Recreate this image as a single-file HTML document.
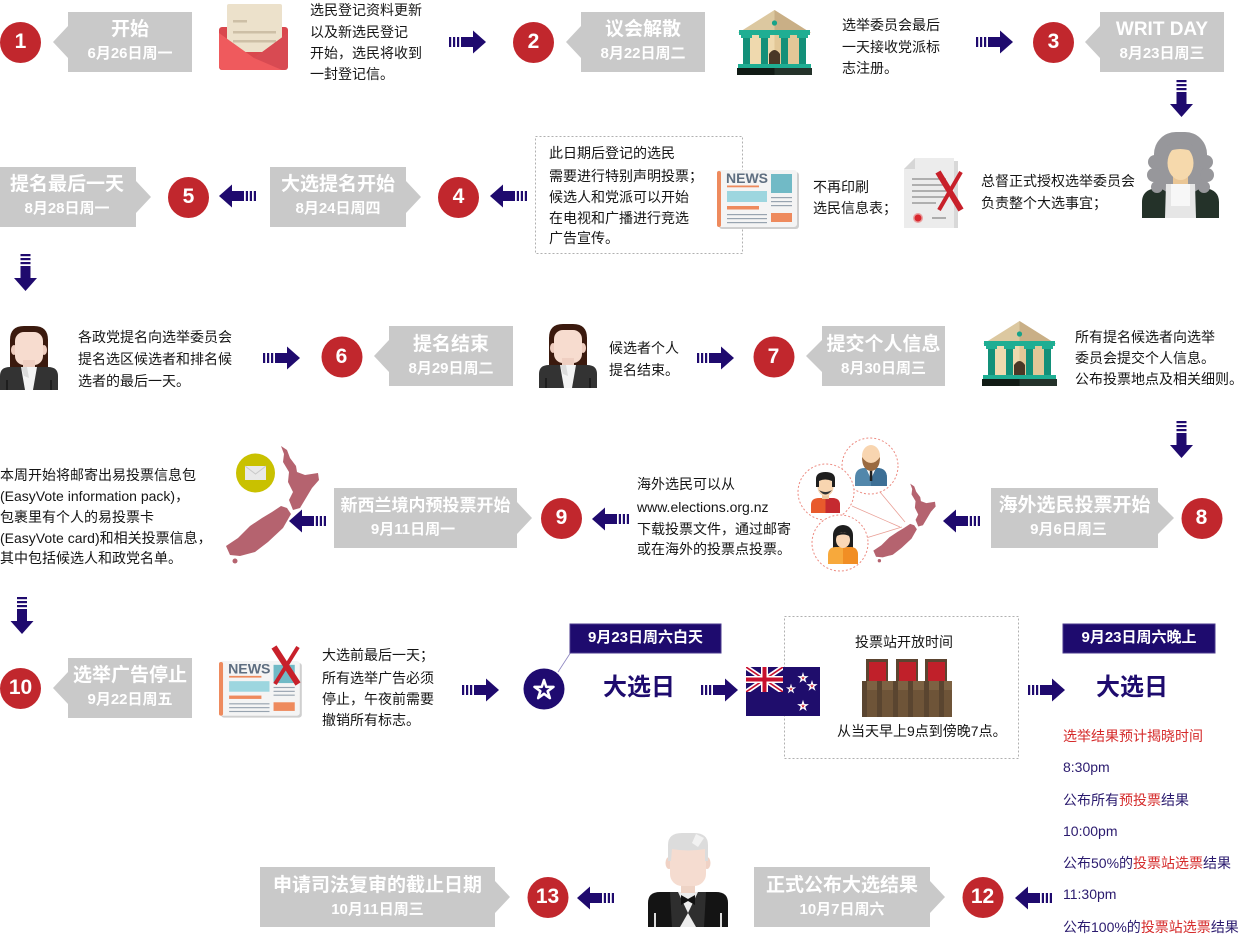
<!DOCTYPE html>
<html><head><meta charset="utf-8">
<style>
*{margin:0;padding:0}
body{width:1242px;height:945px;background:#fff;position:relative;overflow:hidden;font-family:"Liberation Sans","Noto Sans CJK SC",sans-serif}
svg{position:absolute;left:0;top:0}
.t{position:absolute;font-size:14px;line-height:20px;white-space:nowrap;color:#151515}
.bt{position:absolute;color:#fff;font-weight:bold;font-size:19px;line-height:24px;text-align:center;white-space:nowrap}
.bd{position:absolute;color:#fff;font-weight:bold;font-size:15px;line-height:20px;text-align:center;white-space:nowrap}
.n{position:absolute;width:41px;color:#fff;font-weight:bold;font-size:21px;line-height:24px;text-align:center}
.lb{position:absolute;color:#fff;font-weight:bold;font-size:15px;line-height:20px;text-align:center;white-space:nowrap}
.big{position:absolute;color:#1e0b6e;font-weight:bold;font-size:24px;line-height:30px;white-space:nowrap}
.p{color:#2a1a6e}
.r{color:#d52b2b}
</style></head><body>
<svg width="1242" height="945" viewBox="0 0 1242 945">
<defs>
<g id="ar" fill="#1f0a6e">
<rect x="0" y="-5" width="2.2" height="10"/>
<rect x="4" y="-5" width="2.2" height="10"/>
<rect x="8" y="-5" width="2.2" height="10"/>
<rect x="12" y="-5" width="12.5" height="10"/>
<polygon points="24,-11.5 37,0 24,11.5"/>
</g>
<polygon id="st" points="0,-1 0.225,-0.309 0.951,-0.309 0.363,0.118 0.588,0.809 0,0.382 -0.588,0.809 -0.363,0.118 -0.951,-0.309 -0.225,-0.309"/>
<g id="bld">
<polygon points="1,23 37.5,0 74,23" fill="#dcc8a0"/>
<polygon points="37.5,0 74,23 37.5,23" fill="#c9af86"/>
<circle cx="37.5" cy="13" r="2.6" fill="#17a389"/>
<rect x="2" y="20" width="71" height="5" fill="#1fae93"/>
<rect x="6" y="25" width="63" height="33" fill="#efd9ae"/>
<rect x="37.5" y="25" width="31.5" height="33" fill="#e2c797"/>
<rect x="6" y="25" width="7" height="31" fill="#139079"/>
<rect x="24" y="25" width="7" height="31" fill="#139079"/>
<rect x="44" y="25" width="7" height="31" fill="#139079"/>
<rect x="62" y="25" width="7" height="31" fill="#139079"/>
<rect x="4" y="25" width="11" height="3" fill="#1fae93"/>
<rect x="22" y="25" width="11" height="3" fill="#1fae93"/>
<rect x="42" y="25" width="11" height="3" fill="#1fae93"/>
<rect x="60" y="25" width="11" height="3" fill="#1fae93"/>
<path d="M32,57 L32,44 Q37.5,36 43,44 L43,57 Z" fill="#4a3826"/>
<rect x="1" y="54" width="73" height="4" fill="#1fae93"/>
<rect x="0" y="58" width="75" height="7" fill="#24322a"/>
<rect x="0" y="58" width="37.5" height="7" fill="#111b15"/>
</g>
<g id="news">
<rect x="2" y="2" width="80" height="57" rx="3" fill="#cfcfcf"/>
<rect x="0" y="0" width="80" height="57" rx="3" fill="#f4f4f4"/>
<rect x="0" y="1" width="4" height="56" rx="2" fill="#ee8a5d"/>
<text x="9" y="13" font-family="Liberation Sans" font-weight="bold" font-size="14" fill="#5e6e80">NEWS</text>
<rect x="10" y="15.5" width="32" height="1.8" fill="#ee8a5d"/>
<rect x="54" y="4" width="21" height="19" fill="#71bac6"/>
<rect x="10" y="21" width="40" height="11" fill="#9dd6df"/>
<rect x="10" y="36" width="32" height="3.5" fill="#ee8a5d"/>
<rect x="10" y="44" width="40" height="1.2" fill="#98a4b0"/>
<rect x="10" y="48" width="40" height="1.2" fill="#98a4b0"/>
<rect x="10" y="52" width="40" height="1.2" fill="#98a4b0"/>
<rect x="54" y="27" width="21" height="1.2" fill="#98a4b0"/>
<rect x="54" y="31" width="21" height="1.2" fill="#98a4b0"/>
<rect x="54" y="35" width="21" height="1.2" fill="#98a4b0"/>
<rect x="54" y="43" width="21" height="9" fill="#ee8a5d"/>
</g>
<g id="woman">
<path d="M10,42 L10,14 Q10,0 24,0 L34,0 Q48,0 48,14 L48,42 Z" fill="#3b1a0e"/>
<ellipse cx="14" cy="24" rx="3" ry="5" fill="#efcdbf"/>
<ellipse cx="44" cy="24" rx="3" ry="5" fill="#efcdbf"/>
<rect x="15" y="6" width="28" height="33" rx="9" fill="#f7dccf"/>
<rect x="23" y="34" width="12" height="10" fill="#efcfc2"/>
<path d="M0,64 L0,50 Q0,41 10,41 L48,41 Q58,41 58,50 L58,64 Z" fill="#333"/>
<polygon points="21,41 37,41 33,64 25,64" fill="#f4f4f4"/>
<polygon points="21,41 27,41 29,52 24,50" fill="#dcdcdc"/>
<rect x="6" y="54" width="2" height="10" fill="#1e1e1e"/>
<rect x="50" y="54" width="2" height="10" fill="#1e1e1e"/>
</g>
<g id="nz">
<polygon points="57,1 63,5 66,13 72,21 73,27 81,30 94,28 95,35 88,43 82,53 76,63 69,65 65,55 69,47 64,37 65,27 59,17 60,9"/>
<polygon points="63,63 67,69 59,83 44,97 31,107 16,111 6,110 2,101 14,93 26,81 38,73 48,67 57,61"/>
<circle cx="11" cy="116" r="2.5"/>
</g>
<clipPath id="cj"><rect x="746" y="667" width="37" height="25"/></clipPath>
</defs>

<!-- gray label boxes -->
<g fill="#c9c9c9">
<polygon points="68,12 192,12 192,72 68,72 68,58 53,42 68,26"/>
<polygon points="581,12 705,12 705,72 581,72 581,58 566,42 581,26"/>
<polygon points="1100,12 1224,12 1224,72 1100,72 1100,58 1085,42 1100,26"/>
<polygon points="389,326 513,326 513,386 389,386 389,372 374,356 389,340"/>
<polygon points="822,326 945,326 945,386 822,386 822,372 806,356 822,340"/>
<polygon points="68,658 192,658 192,718 68,718 68,704 53,688 68,672"/>
<polygon points="-5,167 136,167 136,181 151,197 136,213 136,227 -5,227"/>
<polygon points="270,167 406,167 406,181 421,197 406,213 406,227 270,227"/>
<polygon points="334,488 517,488 517,502 532,518 517,534 517,548 334,548"/>
<polygon points="991,488 1158,488 1158,502 1174,518 1158,534 1158,548 991,548"/>
<polygon points="260,867 495,867 495,881 510,897 495,913 495,927 260,927"/>
<polygon points="754,867 930,867 930,881 945,897 930,913 930,927 754,927"/>
</g>

<!-- red circles -->
<g fill="#c1272d">
<circle cx="20.5" cy="42.5" r="20.5"/>
<circle cx="533.5" cy="42.5" r="20.5"/>
<circle cx="1053.5" cy="42.5" r="20.5"/>
<circle cx="458.5" cy="197.5" r="20.5"/>
<circle cx="188.5" cy="197.5" r="20.5"/>
<circle cx="342" cy="357" r="20.5"/>
<circle cx="774" cy="357" r="20.5"/>
<circle cx="1202" cy="518.5" r="20.5"/>
<circle cx="561.5" cy="518.5" r="20.5"/>
<circle cx="20.5" cy="688.5" r="20.5"/>
<circle cx="983" cy="897.5" r="20.5"/>
<circle cx="548" cy="897.5" r="20.5"/>
</g>

<!-- arrows -->
<use href="#ar" transform="translate(449,42)"/>
<use href="#ar" transform="translate(976,42)"/>
<use href="#ar" transform="translate(263,358)"/>
<use href="#ar" transform="translate(697,358)"/>
<use href="#ar" transform="translate(462,690)"/>
<use href="#ar" transform="translate(701,690)"/>
<use href="#ar" transform="translate(1028,690)"/>
<use href="#ar" transform="translate(256,196) scale(-1,1)"/>
<use href="#ar" transform="translate(527,196) scale(-1,1)"/>
<use href="#ar" transform="translate(326,521) scale(-1,1)"/>
<use href="#ar" transform="translate(980,521) scale(-1,1)"/>
<use href="#ar" transform="translate(629,519) scale(-1,1)"/>
<use href="#ar" transform="translate(1052,898) scale(-1,1)"/>
<use href="#ar" transform="translate(614,898) scale(-1,1)"/>
<use href="#ar" transform="translate(1181.5,80) rotate(90)"/>
<use href="#ar" transform="translate(25.5,254) rotate(90)"/>
<use href="#ar" transform="translate(1181.5,421) rotate(90)"/>
<use href="#ar" transform="translate(22,597) rotate(90)"/>

<!-- dashed boxes -->
<rect x="535.5" y="136.5" width="207" height="117" fill="none" stroke="#b0b0b0" stroke-width="1" stroke-dasharray="2 2"/>
<rect x="784.5" y="616.5" width="234" height="142" fill="none" stroke="#b0b0b0" stroke-width="1" stroke-dasharray="2 2"/>

<!-- envelope -->
<rect x="219" y="27" width="69" height="43" rx="3" fill="#d9474d"/>
<rect x="227" y="4" width="55" height="48" rx="2" fill="#ece1cb"/>
<rect x="233" y="20" width="14" height="2.5" fill="#cdbfa6"/>
<rect x="233" y="31" width="43" height="2.5" fill="#cdbfa6"/>
<rect x="233" y="40" width="43" height="2.5" fill="#cdbfa6"/>
<polygon points="219,33 254,58 288,33 288,67 285,70 222,70 219,67" fill="#ef5a5d"/>
<polygon points="254,58 288,33 288,67 285,70 282,70" fill="#d84a52"/>

<!-- buildings -->
<use href="#bld" transform="translate(737,10)"/>
<use href="#bld" transform="translate(982,321)"/>

<!-- newspaper -->
<use href="#news" transform="translate(717,170)"/>

<!-- doc with X -->
<g transform="translate(904,158)">
<rect x="50" y="3" width="4" height="67" fill="#d8d8d8"/>
<polygon points="11,0 50,0 50,70 0,70 0,11" fill="#ececec"/>
<polygon points="0,11 11,0 11,11" fill="#d6d6d6"/>
<g stroke="#8a8a8a" stroke-width="1.3">
<line x1="8" y1="21" x2="42" y2="21"/><line x1="8" y1="27" x2="42" y2="27"/>
<line x1="8" y1="33" x2="42" y2="33"/><line x1="8" y1="39" x2="42" y2="39"/>
<line x1="8" y1="45" x2="32" y2="45"/><line x1="28" y1="60" x2="42" y2="60"/>
</g>
<circle cx="14" cy="60" r="5" fill="#e9a0a0"/>
<circle cx="14" cy="60" r="3.5" fill="#d9272e"/>
<line x1="34" y1="14" x2="57" y2="52" stroke="#c8202a" stroke-width="6"/>
<line x1="57" y1="14" x2="35" y2="52" stroke="#c8202a" stroke-width="4"/>
</g>

<!-- judge -->
<g transform="translate(1142,132)">
<path d="M0,86 L0,70 Q0,58 14,56 L27,52 L50,52 L63,56 Q77,58 77,70 L77,86 Z" fill="#243229"/>
<rect x="12" y="0" width="53" height="62" rx="22" fill="#97979b"/>
<g fill="#97979b"><circle cx="13" cy="30" r="7"/><circle cx="12" cy="43" r="7"/><circle cx="15" cy="55" r="6"/><circle cx="64" cy="30" r="7"/><circle cx="65" cy="43" r="7"/><circle cx="62" cy="55" r="6"/></g>
<rect x="31" y="42" width="15" height="12" fill="#eac695"/>
<ellipse cx="38.5" cy="31" rx="13" ry="17" fill="#f6d9ac"/>
<path d="M25,14 Q38,6 52,14 L52,20 Q38,14 25,20 Z" fill="#97979b"/>
<polygon points="24,52 53,52 54,86 23,86" fill="#e6e6e6"/>
<rect x="29" y="52" width="19" height="22" fill="#f7f7f7"/>
</g>

<!-- women -->
<use href="#woman" transform="translate(0,326)"/>
<use href="#woman" transform="translate(539,324)"/>

<!-- yellow circle envelope + NZ map -->
<circle cx="255.5" cy="473" r="19.5" fill="#c9c100"/>
<rect x="245" y="466" width="21" height="14" fill="#e9e9e9"/>
<polyline points="245,466 255.5,474 266,466" fill="none" stroke="#c9c9c9" stroke-width="1"/>
<use href="#nz" transform="translate(224,445)" fill="#b5636f"/>

<!-- overseas people -->
<g stroke="#e9a097" stroke-width="0.8">
<line x1="880" y1="492" x2="905" y2="522"/>
<line x1="852" y1="506" x2="900" y2="527"/>
<line x1="866" y1="538" x2="902" y2="527"/>
</g>
<use href="#nz" transform="translate(872,483) scale(0.67)" fill="#b5636f"/>
<g fill="#fff" stroke="#ec8a80" stroke-width="1" stroke-dasharray="2 2">
<circle cx="870" cy="466" r="28"/>
<circle cx="826" cy="492" r="28"/>
<circle cx="840" cy="543" r="28"/>
</g>
<!-- C1 -->
<path d="M855,486 L855,478 Q855,468 865,468 L877,468 Q887,468 887,478 L887,486 Z" fill="#5287ab"/>
<path d="M871,468 L877,468 Q887,468 887,478 L887,486 L871,486 Z" fill="#3d6f95"/>
<polygon points="866,468 876,468 871,479" fill="#fff"/>
<rect x="869.8" y="469" width="2.5" height="12" fill="#222"/>
<ellipse cx="871" cy="456" rx="9" ry="11" fill="#f8d5b0"/>
<path d="M862,457 Q862,470 871,471 Q880,470 880,457 Q876,463 871,463 Q866,463 862,457 Z" fill="#9a6a40"/>
<!-- C2 -->
<path d="M811,513 L811,505 Q811,498 819,498 L832,498 Q840,498 840,505 L840,513 Z" fill="#e85a2c"/>
<path d="M825.5,498 L832,498 Q840,498 840,505 L840,513 L825.5,513 Z" fill="#c52a30"/>
<rect x="822" y="492" width="7" height="7" fill="#efc79f"/>
<ellipse cx="825.5" cy="487" rx="8" ry="9" fill="#f8d5b0"/>
<path d="M816,487 L816,479 Q816,472 825.5,472 Q835,472 835,479 L835,487 L832,487 L832,481 Q825,478 819,481 L819,487 Z" fill="#1e1e1e"/>
<path d="M819,490 Q825.5,499 832,490 Q825.5,494 819,490 Z" fill="#333"/>
<!-- C3 -->
<rect x="833" y="535" width="20" height="16" fill="#1e1e1e"/>
<ellipse cx="843" cy="535" rx="10" ry="10" fill="#1e1e1e"/>
<path d="M828,564 L828,555 Q828,547 836,547 L850,547 Q858,547 858,555 L858,564 Z" fill="#f7a93c"/>
<path d="M843,547 L850,547 Q858,547 858,555 L858,564 L843,564 Z" fill="#f18e24"/>
<ellipse cx="843" cy="540" rx="7" ry="8" fill="#fad7b6"/>
<path d="M835,537 Q843,527 851,537 Q843,532 835,537 Z" fill="#1e1e1e"/>

<!-- newspaper with X -->
<use href="#news" transform="translate(219,661) scale(1.01,0.96)"/>
<line x1="274" y1="647" x2="298" y2="684" stroke="#c8202a" stroke-width="6"/>
<line x1="298" y1="647" x2="275" y2="684" stroke="#c8202a" stroke-width="4"/>

<!-- star circle -->
<line x1="558" y1="672" x2="571" y2="652" stroke="#8c84c0" stroke-width="0.8"/>
<circle cx="544" cy="689" r="20.5" fill="#1f0b70"/>
<use href="#st" transform="translate(544,690) scale(10)" fill="none" stroke="#fff" stroke-width="0.25" stroke-linejoin="round"/>

<!-- purple labels -->
<rect x="570" y="624" width="151" height="29" fill="#1e0b6e" stroke="#4a3a8e" stroke-width="1"/>
<rect x="1063" y="624" width="152" height="29" fill="#1e0b6e" stroke="#4a3a8e" stroke-width="1"/>

<!-- NZ flag -->
<rect x="746" y="667" width="74" height="49" fill="#1f0d6c"/>
<g clip-path="url(#cj)">
<path d="M746,667 L783,692 M783,667 L746,692" stroke="#fff" stroke-width="5"/>
<path d="M746,667 L783,692 M783,667 L746,692" stroke="#c8102e" stroke-width="1.6"/>
<rect x="746" y="676" width="37" height="7" fill="#fff"/>
<rect x="761" y="667" width="7" height="25" fill="#fff"/>
<rect x="746" y="677.5" width="37" height="4" fill="#c8102e"/>
<rect x="762.5" y="667" width="4" height="25" fill="#c8102e"/>
</g>
<g fill="#d21f2b" stroke="#fff" stroke-width="0.3">
<use href="#st" transform="translate(803,678) scale(4)"/>
<use href="#st" transform="translate(812,686) scale(4)"/>
<use href="#st" transform="translate(791,689) scale(3.6)"/>
<use href="#st" transform="translate(803,706) scale(4.2)"/>
</g>

<!-- ballot box -->
<g>
<rect x="866" y="659" width="22" height="24" fill="#5b4430"/>
<rect x="896" y="659" width="22" height="24" fill="#5b4430"/>
<rect x="925" y="659" width="22" height="24" fill="#5b4430"/>
<rect x="869" y="662" width="17" height="20" fill="#c0202a"/>
<rect x="899" y="662" width="17" height="20" fill="#c0202a"/>
<rect x="928" y="662" width="17" height="20" fill="#c0202a"/>
<rect x="862" y="681" width="90" height="36" fill="#6e5438"/>
<rect x="862" y="681" width="90" height="9" fill="#7d6243"/>
<rect x="862" y="681" width="5" height="36" fill="#5a4530"/>
<rect x="877" y="681" width="5" height="36" fill="#5a4530"/>
<rect x="893" y="681" width="5" height="36" fill="#5a4530"/>
<rect x="908" y="681" width="5" height="36" fill="#5a4530"/>
<rect x="924" y="681" width="5" height="36" fill="#5a4530"/>
<rect x="939" y="681" width="5" height="36" fill="#5a4530"/>
</g>

<!-- tuxedo man -->
<g transform="translate(648,833)">
<path d="M0,94 L0,70 Q0,59 12,59 L68,59 Q80,59 80,70 L80,94 Z" fill="#141414"/>
<polygon points="26,59 54,59 48,94 32,94" fill="#ececec"/>
<polygon points="22,59 30,59 40,80 32,94 24,94" fill="#2e2e2e"/>
<polygon points="58,59 50,59 40,80 48,94 56,94" fill="#2e2e2e"/>
<polygon points="33,62 40,66 47,62 47,72 40,68 33,72" fill="#111"/>
<rect x="6" y="80" width="2" height="14" fill="#ddd"/>
<rect x="72" y="80" width="2" height="14" fill="#ddd"/>
<rect x="33" y="48" width="14" height="12" fill="#eed3c5"/>
<ellipse cx="21" cy="30" rx="3.5" ry="6" fill="#f0d2c5"/>
<ellipse cx="59" cy="30" rx="3.5" ry="6" fill="#f0d2c5"/>
<rect x="22" y="8" width="36" height="45" rx="12" fill="#f5dcd0"/>
<path d="M20,28 L20,12 Q20,0 34,0 L46,0 Q60,0 60,12 L60,28 L57,28 L57,16 Q40,19 24,16 L23,28 Z" fill="#dcdcdc"/>
<polygon points="48,1 56,5 50,14 44,10" fill="#f2f2f2"/>
</g>
</svg>

<!-- circle numbers -->
<div class="n" style="left:0;top:30px">1</div>
<div class="n" style="left:513px;top:30px">2</div>
<div class="n" style="left:1033px;top:30px">3</div>
<div class="n" style="left:438px;top:185px">4</div>
<div class="n" style="left:168px;top:185px">5</div>
<div class="n" style="left:321px;top:345px">6</div>
<div class="n" style="left:753px;top:345px">7</div>
<div class="n" style="left:1181px;top:506px">8</div>
<div class="n" style="left:541px;top:506px">9</div>
<div class="n" style="left:0;top:676px">10</div>
<div class="n" style="left:962px;top:885px">12</div>
<div class="n" style="left:527px;top:885px">13</div>

<!-- box titles -->
<div class="bt" style="left:68px;width:124px;top:18px">开始</div>
<div class="bd" style="left:68px;width:124px;top:44px">6月26日周一</div>
<div class="bt" style="left:581px;width:124px;top:18px">议会解散</div>
<div class="bd" style="left:581px;width:124px;top:44px">8月22日周二</div>
<div class="bt" style="left:1100px;width:124px;top:18px">WRIT DAY</div>
<div class="bd" style="left:1100px;width:124px;top:44px">8月23日周三</div>
<div class="bt" style="left:0;width:134px;top:173px">提名最后一天</div>
<div class="bd" style="left:0;width:134px;top:199px">8月28日周一</div>
<div class="bt" style="left:270px;width:136px;top:173px">大选提名开始</div>
<div class="bd" style="left:270px;width:136px;top:199px">8月24日周四</div>
<div class="bt" style="left:389px;width:124px;top:333px">提名结束</div>
<div class="bd" style="left:389px;width:124px;top:359px">8月29日周二</div>
<div class="bt" style="left:822px;width:123px;top:333px">提交个人信息</div>
<div class="bd" style="left:822px;width:123px;top:359px">8月30日周三</div>
<div class="bt" style="left:334px;width:183px;top:494px;font-size:17px">新西兰境内预投票开始</div>
<div class="bd" style="left:334px;width:158px;top:520px">9月11日周一</div>
<div class="bt" style="left:991px;width:167px;top:494px">海外选民投票开始</div>
<div class="bd" style="left:991px;width:155px;top:520px">9月6日周三</div>
<div class="bt" style="left:68px;width:124px;top:664px">选举广告停止</div>
<div class="bd" style="left:68px;width:124px;top:690px">9月22日周五</div>
<div class="bt" style="left:260px;width:235px;top:874px">申请司法复审的截止日期</div>
<div class="bd" style="left:260px;width:235px;top:900px">10月11日周三</div>
<div class="bt" style="left:754px;width:176px;top:874px">正式公布大选结果</div>
<div class="bd" style="left:754px;width:176px;top:900px">10月7日周六</div>

<!-- descriptions -->
<div class="t" style="left:310px;top:0px">选民登记资料更新</div>
<div class="t" style="left:310px;top:22px">以及新选民登记</div>
<div class="t" style="left:310px;top:43px">开始，选民将收到</div>
<div class="t" style="left:310px;top:64px">一封登记信。</div>

<div class="t" style="left:842px;top:15px">选举委员会最后</div>
<div class="t" style="left:842px;top:37px">一天接收党派标</div>
<div class="t" style="left:842px;top:58px">志注册。</div>

<div class="t" style="left:549px;top:143px">此日期后登记的选民</div>
<div class="t" style="left:549px;top:166px">需要进行特别声明投票；</div>
<div class="t" style="left:549px;top:187px">候选人和党派可以开始</div>
<div class="t" style="left:549px;top:208px">在电视和广播进行竞选</div>
<div class="t" style="left:549px;top:228px">广告宣传。</div>

<div class="t" style="left:813px;top:177px">不再印刷</div>
<div class="t" style="left:813px;top:198px">选民信息表；</div>

<div class="t" style="left:981px;top:171px">总督正式授权选举委员会</div>
<div class="t" style="left:981px;top:193px">负责整个大选事宜；</div>

<div class="t" style="left:78px;top:327px">各政党提名向选举委员会</div>
<div class="t" style="left:78px;top:349px">提名选区候选者和排名候</div>
<div class="t" style="left:78px;top:371px">选者的最后一天。</div>

<div class="t" style="left:609px;top:338px">候选者个人</div>
<div class="t" style="left:609px;top:360px">提名结束。</div>

<div class="t" style="left:1075px;top:327px">所有提名候选者向选举</div>
<div class="t" style="left:1075px;top:348px">委员会提交个人信息。</div>
<div class="t" style="left:1075px;top:369px">公布投票地点及相关细则。</div>

<div class="t" style="left:0;top:465px">本周开始将邮寄出易投票信息包</div>
<div class="t" style="left:0;top:486px">(EasyVote information pack)，</div>
<div class="t" style="left:0;top:507px">包裹里有个人的易投票卡</div>
<div class="t" style="left:0;top:528px">(EasyVote card)和相关投票信息，</div>
<div class="t" style="left:0;top:548px">其中包括候选人和政党名单。</div>

<div class="t" style="left:637px;top:474px">海外选民可以从</div>
<div class="t" style="left:637px;top:497px">www.elections.org.nz</div>
<div class="t" style="left:637px;top:519px">下载投票文件，通过邮寄</div>
<div class="t" style="left:637px;top:539px">或在海外的投票点投票。</div>

<div class="t" style="left:322px;top:645px">大选前最后一天；</div>
<div class="t" style="left:322px;top:668px">所有选举广告必须</div>
<div class="t" style="left:322px;top:689px">停止，午夜前需要</div>
<div class="t" style="left:322px;top:710px">撤销所有标志。</div>

<!-- election day -->
<div class="lb" style="left:570px;width:151px;top:628px">9月23日周六白天</div>
<div class="lb" style="left:1063px;width:152px;top:628px">9月23日周六晚上</div>
<div class="big" style="left:603px;top:673px">大选日</div>
<div class="big" style="left:1096px;top:673px">大选日</div>
<div class="t" style="left:855px;top:632px">投票站开放时间</div>
<div class="t" style="left:837px;top:721px">从当天早上9点到傍晚7点。</div>

<div class="t r" style="left:1063px;top:726px">选举结果预计揭晓时间</div>
<div class="t p" style="left:1063px;top:757px">8:30pm</div>
<div class="t p" style="left:1063px;top:790px">公布所有<span class="r">预投票</span>结果</div>
<div class="t p" style="left:1063px;top:821px">10:00pm</div>
<div class="t p" style="left:1063px;top:853px">公布50%的<span class="r">投票站选票</span>结果</div>
<div class="t p" style="left:1063px;top:884px">11:30pm</div>
<div class="t p" style="left:1063px;top:917px">公布100%的<span class="r">投票站选票</span>结果</div>
</body></html>
